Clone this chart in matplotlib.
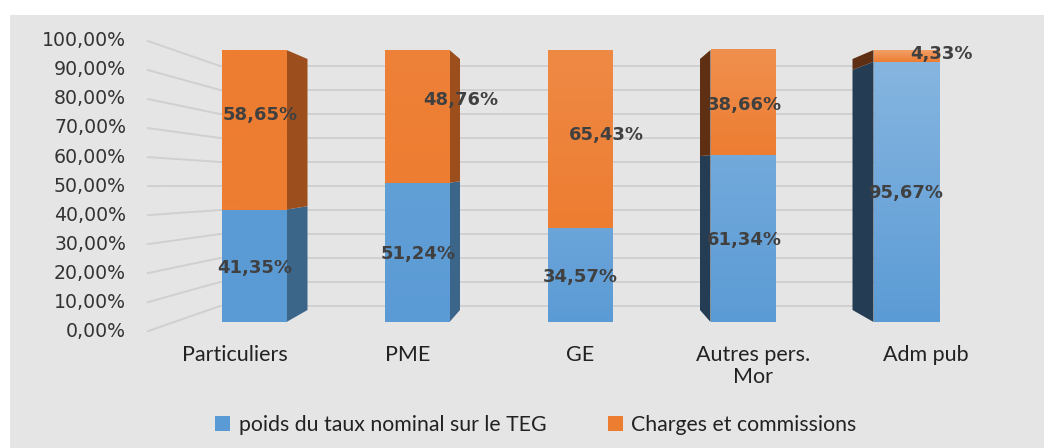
import numpy as np
import matplotlib
matplotlib.use("Agg")
import matplotlib.pyplot as plt
from matplotlib.patches import Polygon, Rectangle, Patch
from matplotlib.colors import to_rgb

# ---------------- data ----------------
categories = ["Particuliers", "PME", "GE", "Autres pers.\nMor", "Adm pub"]
taux_nominal = [41.35, 51.24, 34.57, 61.34, 95.67]
charges = [58.65, 48.76, 65.43, 38.66, 4.33]
series_names = ["poids du taux nominal sur le TEG", "Charges et commissions"]
y_ticks = [0, 10, 20, 30, 40, 50, 60, 70, 80, 90, 100]
y_tick_labels = ["0,00%", "10,00%", "20,00%", "30,00%", "40,00%", "50,00%",
                 "60,00%", "70,00%", "80,00%", "90,00%", "100,00%"]

# ---------------- style ----------------
W, H = 1044, 448
BLUE = "#5b9bd5"
ORANGE = "#ed7d31"
BLUE_SIDE_R, ORANGE_SIDE_R = "#3b6589", "#9c4f1d"
BLUE_SIDE_L, ORANGE_SIDE_L = "#243d55", "#5e2f12"
BG = "#e5e5e5"
GRID = "#d0d0d0"
TXT = "#404040"
CAT_FONT = ["Lato", "DejaVu Sans"]

PX_CAT = 163.0   # pixels per category step
X0 = 580.0       # pixel x of middle category
PX_PCT = 2.72    # pixels per percent on the bar front faces
Y0 = 322.0       # pixel y (from top) of 0 % on the front faces

def px_x(dpx):
    return dpx / PX_CAT

fig = plt.figure(figsize=(W / 100, H / 100), dpi=100)
fig.patch.set_facecolor("white")
fig.patches.append(Rectangle((10 / W, 0), 1, 1 - 15 / H, transform=fig.transFigure,
                             facecolor=BG, edgecolor="none", zorder=-10))

ax = fig.add_axes([0, 0, 1, 1])
ax.set_axis_off()
ax.patch.set_alpha(0)

n = len(categories)
mid = (n - 1) / 2
x = np.arange(n)

# walls (perspective) in data coordinates
x_wall_front = 2 + (147 - X0) / PX_CAT
x_corner = 2 + (220 - X0) / PX_CAT
x_wall_end = 2 + (939 - X0) / PX_CAT

def y_left(v):
    return (Y0 - 331.5 + 2.908 * v) / PX_PCT

def y_back(v):
    return (Y0 - 306 + 2.4 * v) / PX_PCT

def y_bar_back(v):
    return (Y0 - 310 + 2.51 * v) / PX_PCT

for v, lab in zip(y_ticks, y_tick_labels):
    ax.plot([x_wall_front, x_corner, x_wall_end], [y_left(v), y_back(v), y_back(v)],
            color=GRID, lw=1.4, zorder=1, solid_capstyle="butt")
    ax.text(2 + (126 - X0) / PX_CAT, y_left(v), lab, ha="right", va="center",
            fontsize=13.6, color="#333333", family="DejaVu Sans")

# bars
width = 65 / PX_CAT
b1 = ax.bar(x, taux_nominal, width, color=BLUE, zorder=3, label=series_names[0])
b2 = ax.bar(x, charges, width, bottom=taux_nominal, color=ORANGE, zorder=3,
            label=series_names[1])

light = [0.0, 0.03, 0.08, 0.12, 0.22]

def grad(patch, base, f):
    c0 = np.array(to_rgb(base))
    c1 = c0 + (1 - c0) * f * 1.2
    c1 = np.clip(c1, 0, 1)
    t = np.linspace(0, 1, 64)[:, None]
    img = (c0[None, :] * (1 - t) + c1[None, :] * t)[:, None, :]
    x0, y0 = patch.get_x(), patch.get_y()
    ax.imshow(img, extent=[x0, x0 + patch.get_width(), y0, y0 + patch.get_height()],
              origin="lower", aspect="auto", zorder=3.5, interpolation="bilinear")

for i in range(n):
    grad(b1[i], BLUE, light[i])
    grad(b2[i], ORANGE, light[i])

# side faces
for i in range(n):
    dx = px_x(-(i - mid) * 10.5)
    if abs(dx) < 1e-9:
        continue
    if dx > 0:
        xe = x[i] + width / 2
        cb, co = BLUE_SIDE_R, ORANGE_SIDE_R
    else:
        xe = x[i] - width / 2
        cb, co = BLUE_SIDE_L, ORANGE_SIDE_L
    segs = [(0, taux_nominal[i], cb),
            (taux_nominal[i], taux_nominal[i] + charges[i], co)]
    for lo, hi, c in segs:
        poly = Polygon([(xe, lo), (xe, hi), (xe + dx, y_bar_back(hi)), (xe + dx, y_bar_back(lo))],
                       closed=True, facecolor=c, edgecolor="none", zorder=2.5)
        ax.add_patch(poly)

# data labels
def fmt(v):
    return f"{v:.2f}%".replace(".", ",")

blue_dx = [1, 1, 0, 1, 0]
blue_dy = [-0.8, -0.6, -0.8, -0.6, -0.4]
orange_dx = [6, 44, 26, 1, 35]
orange_dy = [5.4, 6.0, 1.5, -0.9, 0.7]
for i in range(n):
    ax.text(x[i] + px_x(blue_dx[i]), taux_nominal[i] / 2 + blue_dy[i], fmt(taux_nominal[i]),
            ha="center", va="center", fontsize=13, fontweight="bold", color=TXT, zorder=6)
    ax.text(x[i] + px_x(orange_dx[i]), taux_nominal[i] + charges[i] / 2 + orange_dy[i],
            fmt(charges[i]), ha="center", va="center", fontsize=13, fontweight="bold",
            color=TXT, zorder=6)

# category labels (on the floor's front edge, spread by perspective)
for i, c in enumerate(categories):
    xl = mid + (i - mid) * 1.06
    ax.text(xl, (Y0 - 345) / PX_PCT, c, ha="center", va="top", fontsize=15.5,
            color="#222222", family=CAT_FONT, linespacing=1.15)

ax.set_xlim(2 - X0 / PX_CAT, 2 + (W - X0) / PX_CAT)
ax.set_ylim((Y0 - H) / PX_PCT, Y0 / PX_PCT)

handles = [Patch(facecolor=BLUE), Patch(facecolor=ORANGE)]
fig.legend(handles, series_names, loc="center", bbox_to_anchor=(536 / W, 1 - 425 / H),
           ncol=2, frameon=False, handlelength=0.7, handleheight=0.7,
           handletextpad=0.4, columnspacing=2.9, prop={"family": CAT_FONT, "size": 15.3},
           labelcolor="#222222")

fig.savefig("out.png", dpi=100, facecolor=fig.get_facecolor())
